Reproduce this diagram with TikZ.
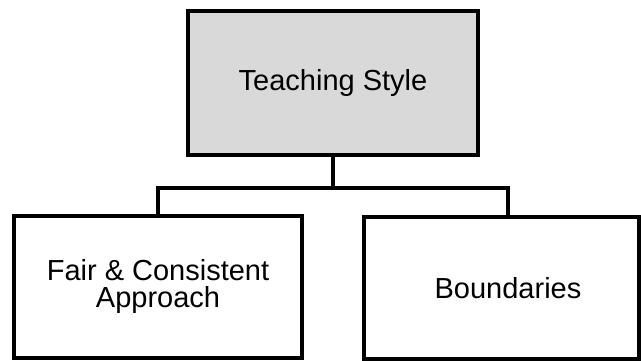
\documentclass[tikz,border=0pt]{standalone}
\usepackage{fontspec}
\setmainfont{Liberation Sans}
\usetikzlibrary{calc}
\definecolor{headfill}{RGB}{217,217,217}
\tikzset{
  box/.style={draw=black, line width=4pt, rectangle, inner sep=4pt, align=center,
    font=\fontsize{29}{27}\selectfont},
  headbox/.style={box, fill=headfill, minimum width=290pt, minimum height=144pt},
  childbox/.style={box, fill=white, minimum height=142pt},
  link/.style={draw=black, line width=4pt}
}
\begin{document}
\begin{tikzpicture}[x=1pt, y=-1pt]
  \useasboundingbox (0,0) rectangle (641,361);
  % top of the hierarchy
  \node[headbox] (head) at (333,83) {Teaching Style};
  % the two branches
  \node[childbox, minimum width=288pt] (fair) at (158,287) {Fair \& Consistent\\Approach};
  \node[childbox, minimum width=275pt] (bound) at (501.5,288) {\hspace*{13pt}Boundaries};
  % tree connectors
  \coordinate (junction) at ($(head.south)+(0,30.5)$);
  \coordinate (bounddrop) at ($(bound.north)+(6.5,0)$);
  \draw[link] (head.south) -- (junction);
  \draw[link] (fair.north) |- (junction) -| (bounddrop);
\end{tikzpicture}
\end{document}
